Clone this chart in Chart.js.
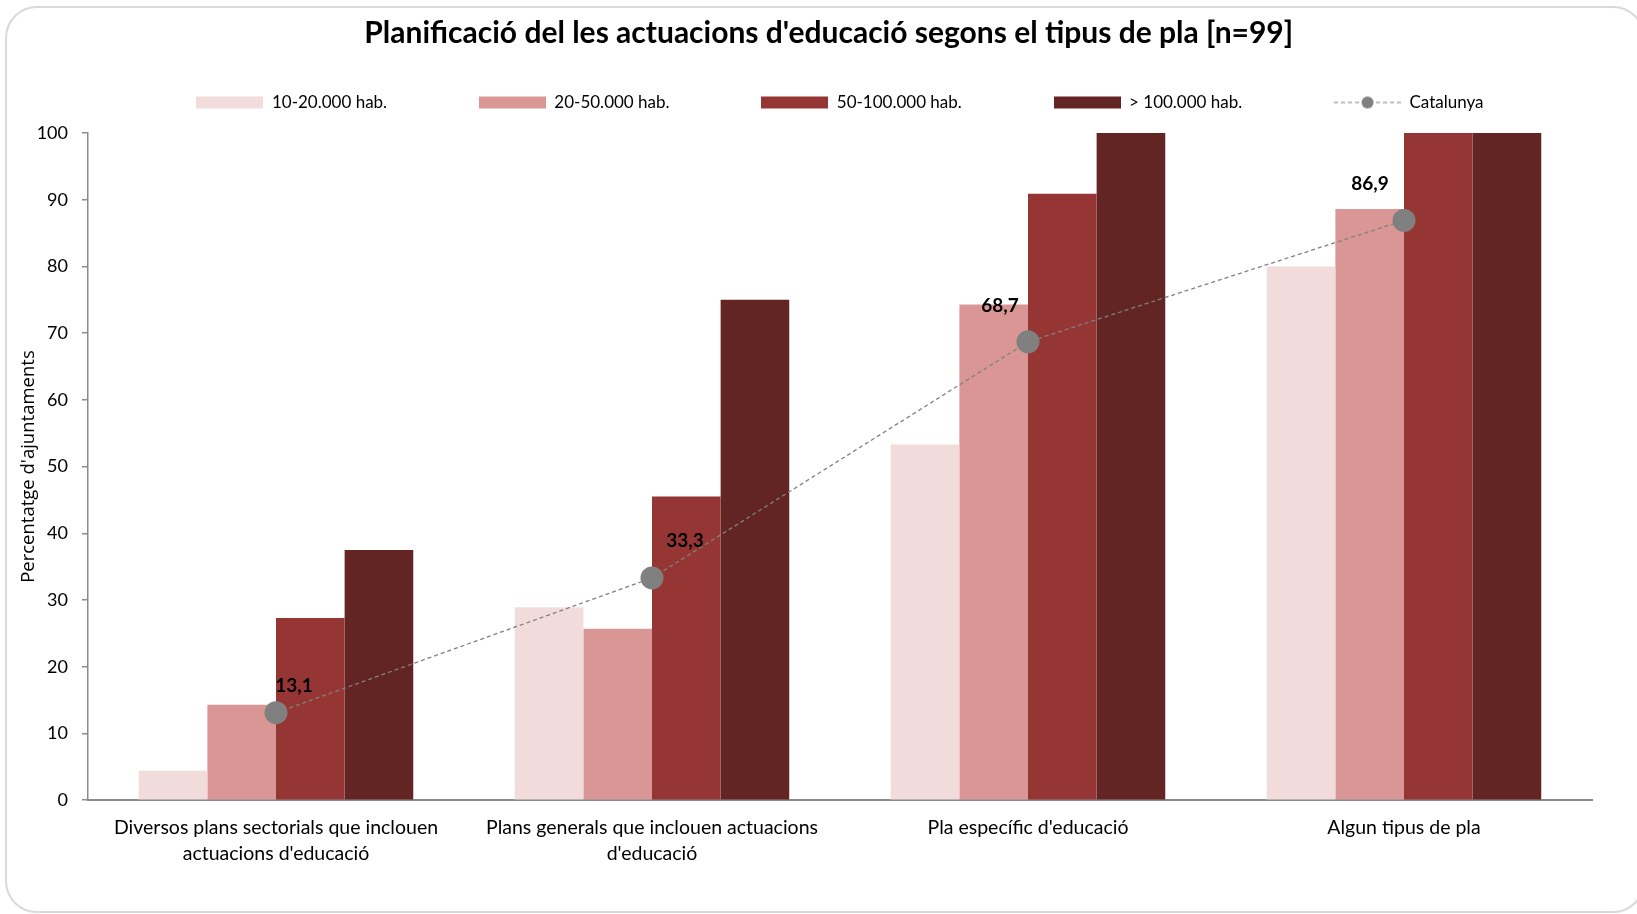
<!DOCTYPE html>
<html>
<head>
<meta charset="utf-8">
<script src="https://cdn.jsdelivr.net/npm/chart.js@4.4.0/dist/chart.umd.min.js"></script>
<style>
  html, body { margin: 0; padding: 0; background: #fff; }
  #wrap { position: relative; width: 1637px; height: 914px; }
  #frame { position: absolute; left: 5px; top: 6px; width: 1640px; height: 907px; box-sizing: border-box;
           border: 2px solid #d9d9d9; border-radius: 32px; }
  #myChart { position: absolute; left: 0; top: 0; }
</style>
</head>
<body>
<div id="wrap">
  <div id="frame"></div>
  <canvas id="myChart" width="1637" height="914"></canvas>
</div>
<script>
const categories = [
    ["Diversos plans sectorials que inclouen", "actuacions d'educació"],
    ["Plans generals que inclouen actuacions", "d'educació"],
    "Pla específic d'educació",
    "Algun tipus de pla"
];
const seriesNames = ['10-20.000 hab.', '20-50.000 hab.', '50-100.000 hab.', '> 100.000 hab.', 'Catalunya'];
const hab10_20 = [4.4, 28.9, 53.3, 80.0];
const hab20_50 = [14.3, 25.7, 74.3, 88.6];
const hab50_100 = [27.3, 45.5, 90.9, 100];
const hab100plus = [37.5, 75.0, 100, 100];
const catalunya = [13.1, 33.3, 68.7, 86.9];
const yTicks = [0, 10, 20, 30, 40, 50, 60, 70, 80, 90, 100];

const barColors = ['#F2DCDB', '#DA9694', '#963634', '#632523'];
const lineGrey = '#808080';
const labelDx = [18, 33, -28, -34];
const labelDy = [-27, -37, -36, -37];
const legendGap = '\u2003'.repeat(5);

function legendIcon(i) {
    const c = document.createElement('canvas');
    c.width = 67;
    c.height = 14;
    const g = c.getContext('2d');
    if (i < 4) {
        g.fillStyle = barColors[i];
        g.fillRect(0, 1, 67, 12);
    } else {
        g.strokeStyle = lineGrey;
        g.lineWidth = 1.2;
        g.setLineDash([4, 3]);
        g.beginPath();
        g.moveTo(0, 7);
        g.lineTo(67, 7);
        g.stroke();
        g.fillStyle = lineGrey;
        g.beginPath();
        g.arc(33.5, 7, 6, 0, Math.PI * 2);
        g.fill();
    }
    return c;
}

const pointLabels = {
    id: 'pointLabels',
    afterDatasetsDraw(chart) {
        const meta = chart.getDatasetMeta(4);
        const ctx = chart.ctx;
        ctx.save();
        ctx.font = 'bold 19px Lato';
        ctx.fillStyle = '#000';
        ctx.textAlign = 'center';
        ctx.textBaseline = 'middle';
        meta.data.forEach((pt, j) => {
            ctx.fillText(catalunya[j].toFixed(1).replace('.', ','), pt.x + labelDx[j], pt.y + labelDy[j]);
        });
        ctx.restore();
    }
};

const barValues = [hab10_20, hab20_50, hab50_100, hab100plus];

const ctx = document.getElementById('myChart');
new Chart(ctx, {
    type: 'bar',
    data: {
        labels: categories,
        datasets: [
            ...barValues.map((vals, i) => ({
                label: seriesNames[i],
                data: vals,
                backgroundColor: barColors[i],
                borderWidth: 0,
                barPercentage: 1,
                categoryPercentage: 0.73,
                order: 1
            })),
            {
                type: 'line',
                label: seriesNames[4],
                data: catalunya,
                borderColor: lineGrey,
                borderWidth: 1.3,
                borderDash: [4, 3],
                pointRadius: 11.5,
                pointHoverRadius: 11.5,
                pointBackgroundColor: lineGrey,
                pointBorderWidth: 0,
                tension: 0,
                order: 0
            }
        ]
    },
    options: {
        responsive: false,
        animation: false,
        layout: { padding: { top: 0, left: 0, right: 45, bottom: 32 } },
        plugins: {
            tooltip: { enabled: false },
            title: {
                display: true,
                fullSize: false,
                text: "Planificació del les actuacions d'educació segons el tipus de pla [n=99]\u2003",
                color: '#000',
                font: { family: 'Lato', size: 30, weight: 'bold' },
                padding: { top: 15, bottom: 15 }
            },
            // empty spacer between the legend and the plot area
            subtitle: {
                display: true,
                fullSize: false,
                weight: 500,
                text: '',
                font: { size: 1, lineHeight: 1 },
                padding: { top: 11, bottom: 0 }
            },
            legend: {
                display: true,
                fullSize: false,
                labels: {
                    usePointStyle: true,
                    pointStyleWidth: 67,
                    boxHeight: 14,
                    padding: 28,
                    color: '#000',
                    font: { family: 'Lato', size: 17 },
                    generateLabels: chart => chart.data.datasets.map((ds, i) => ({
                        text: ds.label + (i < 4 ? legendGap : ''),
                        pointStyle: legendIcon(i),
                        fillStyle: 'transparent',
                        strokeStyle: 'transparent',
                        lineWidth: 0,
                        hidden: !chart.isDatasetVisible(i),
                        datasetIndex: i,
                        fontColor: '#000'
                    }))
                }
            }
        },
        scales: {
            x: {
                afterFit: axis => { axis.paddingLeft = 0; axis.paddingRight = 0; },
                grid: { display: true, drawOnChartArea: false, drawTicks: false },
                border: { display: true, color: '#8c8c8c', width: 2 },
                ticks: {
                    color: '#000',
                    font: { family: 'Lato', size: 19.5, lineHeight: 1.33 },
                    padding: 15,
                    maxRotation: 0,
                    autoSkip: false
                }
            },
            y: {
                min: 0,
                max: 100,
                afterBuildTicks: axis => { axis.ticks = yTicks.map(v => ({ value: v })); },
                afterFit: axis => { axis.width = 88; },
                grid: { display: true, drawOnChartArea: false, drawTicks: true, tickLength: 6, color: '#8c8c8c', lineWidth: 1.5 },
                border: { display: true, color: '#8c8c8c', width: 1.5 },
                ticks: {
                    color: '#000',
                    font: { family: 'Lato', size: 18 },
                    padding: 14
                },
                title: {
                    display: true,
                    text: "Percentatge d'ajuntaments",
                    color: '#000',
                    font: { family: 'Open Sans', size: 18.5, lineHeight: 1 },
                    padding: { top: 19, bottom: 1 }
                }
            }
        }
    },
    plugins: [pointLabels]
});
</script>
</body>
</html>
